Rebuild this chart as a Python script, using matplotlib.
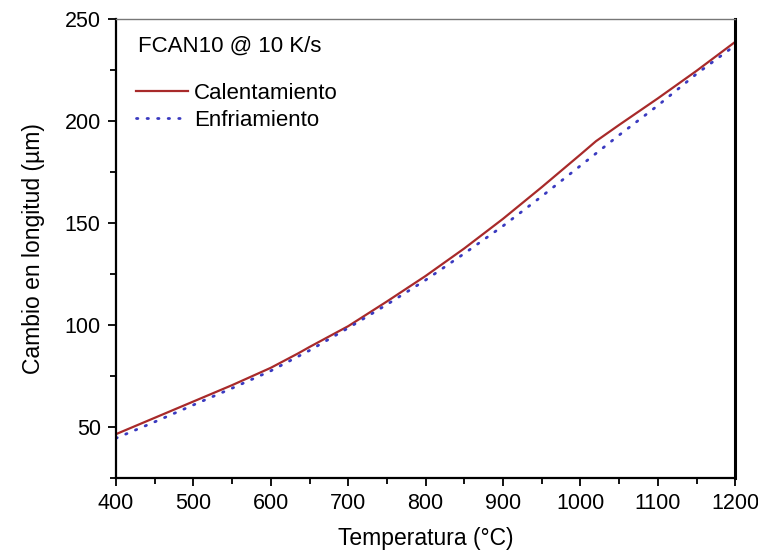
import matplotlib.pyplot as plt
from matplotlib.ticker import MultipleLocator

plt.rcParams['font.family'] = ['Liberation Sans', 'DejaVu Sans']

# Calentamiento (heating)
temp_cal = [400, 450, 500, 550, 600, 635, 650, 700, 750, 800, 850, 900, 950, 1000, 1020, 1050, 1100, 1150, 1200]
dl_cal = [46.5, 54.5, 62.5, 70.5, 79.0, 86.0, 89.2, 99.4, 111.5, 124.0, 137.5, 152.0, 167.5, 183.5, 190.0, 198.0, 211.0, 224.5, 238.7]

# Enfriamiento (cooling)
temp_enf = [400, 450, 500, 550, 600, 650, 700, 750, 800, 850, 900, 950, 1000, 1050, 1100, 1150, 1200]
dl_enf = [44.5, 52.5, 60.8, 69.0, 77.5, 87.5, 98.5, 110.0, 122.0, 135.0, 148.5, 163.0, 178.0, 193.0, 207.5, 223.0, 237.0]

fig = plt.figure(figsize=(7.58, 5.52), dpi=100)
ax = fig.add_axes([0.153, 0.134, 0.817, 0.832])

ax.plot(temp_cal, dl_cal, color='#a82a2a', lw=1.6, label='Calentamiento')
ax.plot(temp_enf, dl_enf, color='#3a3ac0', lw=2.0, ls=(0, (0.5, 3.3)),
        dash_capstyle='round', label='Enfriamiento')

ax.set_xlim(400, 1200)
ax.set_ylim(25, 250)
ax.xaxis.set_major_locator(MultipleLocator(100))
ax.xaxis.set_minor_locator(MultipleLocator(50))
ax.yaxis.set_major_locator(MultipleLocator(50))
ax.yaxis.set_minor_locator(MultipleLocator(25))
ax.tick_params(which='both', direction='out', width=1.3, labelsize=15.5)
ax.tick_params(which='major', length=6, pad=5)
ax.tick_params(which='minor', length=4)

for s in ['left', 'bottom']:
    ax.spines[s].set_linewidth(1.6)
ax.spines['right'].set_linewidth(2.2)
ax.spines['top'].set_linewidth(1.0)
ax.spines['top'].set_color('#777777')

ax.set_xlabel('Temperatura (°C)', fontsize=16.5, labelpad=9)
ax.set_ylabel('Cambio en longitud (µm)', fontsize=16.5, labelpad=14)

ax.text(0.036, 0.94, 'FCAN10 @ 10 K/s', transform=ax.transAxes, fontsize=16, va='center')
ax.legend(loc='upper left', bbox_to_anchor=(0.008, 0.895), frameon=False, fontsize=16,
          handlelength=2.3, handletextpad=0.3, labelspacing=0.3, borderaxespad=0.3)

fig.savefig('out.png', dpi=100)
